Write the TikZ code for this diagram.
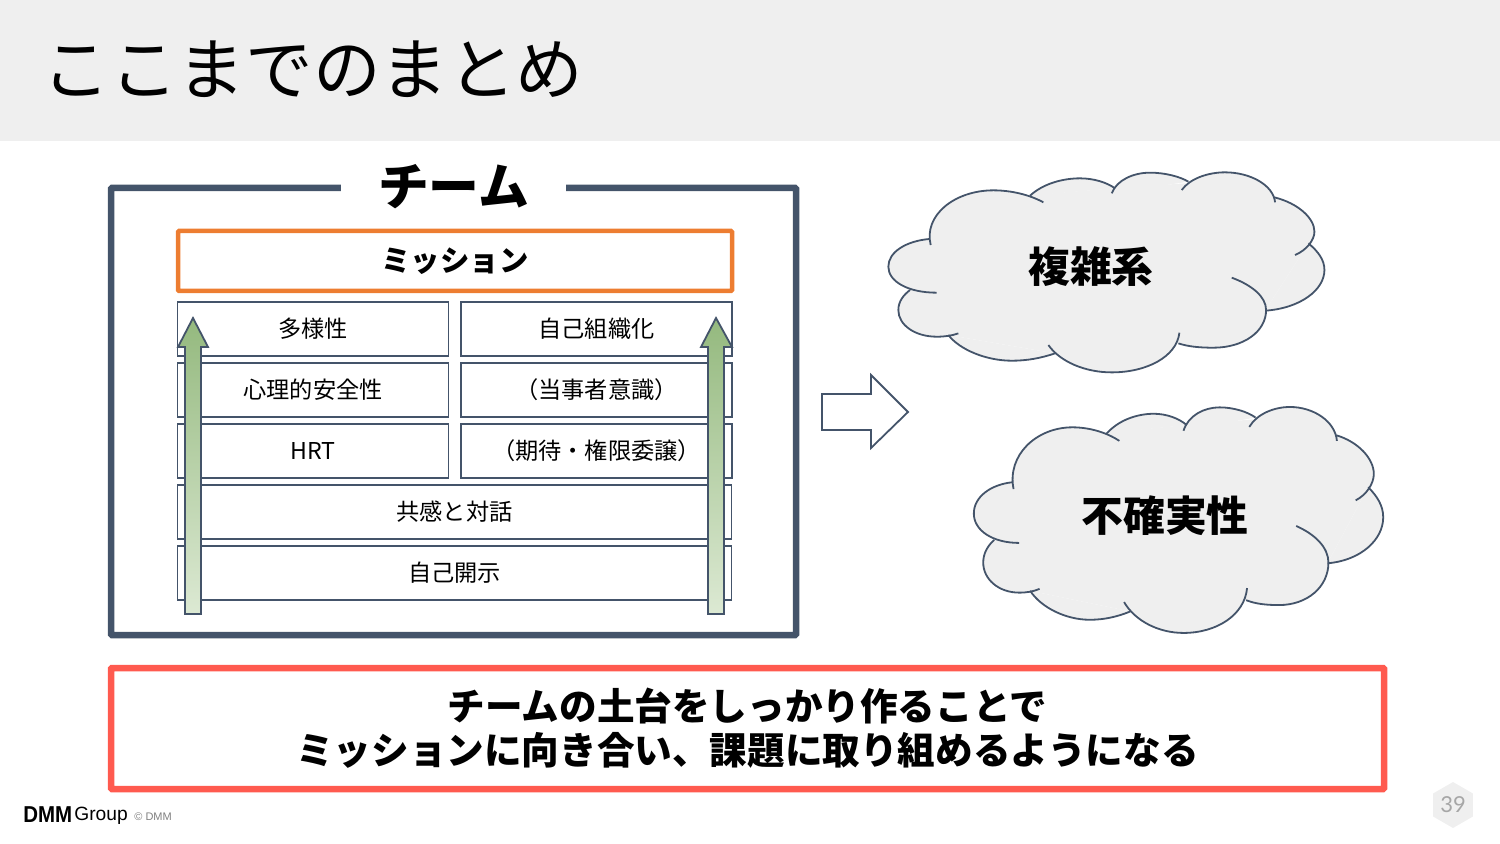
\documentclass[tikz,border=0pt]{standalone}
\usepackage{fontspec}
\setmainfont{Noto Sans CJK JP}
\newfontfamily\latinfont{Liberation Sans}
\newfontfamily\pagefont{Lato}
\usetikzlibrary{shapes.geometric}
\definecolor{slate}{HTML}{44546A}
\definecolor{band}{HTML}{EFEFEF}
\definecolor{mission}{HTML}{ED7D31}
\definecolor{alert}{HTML}{FF5A4F}
\definecolor{arrowtop}{HTML}{94B97E}
\definecolor{arrowbottom}{HTML}{DCE9D3}
\tikzset{
  layerbox/.style={draw=slate,line width=.85pt,fill=white,outer sep=0pt,inner sep=0pt,
    minimum height=27pt,font=\fontsize{11.6}{13}\selectfont},
  halfbox/.style={layerbox,minimum width=135.5pt},
  fullbox/.style={layerbox,minimum width=277pt},
  growarrow/.style={draw=slate,line width=.9pt,top color=arrowtop,bottom color=arrowbottom},
  cloudfill/.style={fill=band},
  cloudline/.style={draw=slate,line width=.9pt},
  cloudtext/.style={font=\fontsize{20.9}{24}\selectfont\bfseries,inner sep=0pt}
}
% arcs of the cloud, in its own coordinates
\newcommand{\cloudarcs}{%
\lobe{(152,240) .. controls (130,150) and (225,76) .. (340,76) .. controls (395,76) and (450,90) .. (490,112)}%
\lobe{(450,92) .. controls (490,55) and (550,40) .. (600,40) .. controls (640,40) and (680,52) .. (705,70)}%
\lobe{(695,85) .. controls (710,45) and (760,23) .. (810,23) .. controls (855,23) and (900,35) .. (925,50)}%
\lobe{(905,75) .. controls (930,40) and (985,22) .. (1035,22) .. controls (1110,22) and (1180,60) .. (1185,112)}%
\lobe{(1183,97) .. controls (1255,115) and (1303,160) .. (1303,200) .. controls (1303,225) and (1280,255) .. (1245,270)}%
\lobe{(1285,235) .. controls (1315,260) and (1333,285) .. (1333,315) .. controls (1333,375) and (1260,430) .. (1155,437)}%
\lobe{(1055,338) .. controls (1115,360) and (1158,395) .. (1158,435) .. controls (1158,500) and (1090,548) .. (1000,548) .. controls (960,548) and (925,545) .. (895,535)}%
\lobe{(898,503) .. controls (890,575) and (800,622) .. (695,622) .. controls (615,622) and (540,590) .. (505,540)}%
\lobe{(525,565) .. controls (480,580) and (440,587) .. (395,587) .. controls (320,587) and (240,555) .. (205,510)}%
\lobe{(235,505) .. controls (215,512) and (195,515) .. (170,515) .. controls (105,515) and (55,480) .. (55,435) .. controls (55,410) and (70,390) .. (90,375)}%
\lobe{(170,383) .. controls (85,383) and (25,350) .. (25,305) .. controls (25,260) and (80,228) .. (147,222)}%
}
\newcommand{\cloudshape}{%
\def\lobe##1{\fill[cloudfill] ##1 -- cycle;}%
\cloudarcs
\fill[cloudfill] (147,222)--(455,90)--(700,70)--(915,55)--(1183,97)--(1285,235)--(1155,437)--(895,535)--(525,565)--(205,510)--(90,375)--cycle;
\def\lobe##1{\draw[cloudline] ##1;}%
\cloudarcs
}
\begin{document}
\begin{tikzpicture}[x=.5pt,y=-.5pt]
\useasboundingbox (0,0) rectangle (1500,844);
\fill[band] (0,0) rectangle (1500,141);
\path
(313,69) node[inner sep=0pt,font=\fontsize{33.8}{38}\selectfont] (title) {ここまでのまとめ};
% team frame
\path
(453.5,411.5) node[draw=slate,line width=3.25pt,rounded corners=.5pt,minimum width=342.5pt,minimum height=223.5pt,outer sep=0pt] (frame) {}
(453.5,187) node[fill=white,minimum width=112.5pt,minimum height=30pt,inner sep=0pt,font=\fontsize{25.4}{29}\selectfont\bfseries] (team) {チーム}
(455,261) node[draw=mission,line width=2.25pt,rounded corners=.5pt,minimum width=277pt,minimum height=30pt,outer sep=0pt,inner sep=0pt,font=\fontsize{14.7}{17}\selectfont\bfseries] (goal) {ミッション};
\path
(313,329) node[halfbox] (diversity) {多様性}
(313,390) node[halfbox] (safety) {心理的安全性}
(313,451) node[halfbox] (hrt) {HRT}
(596.5,329) node[halfbox] (selforg) {自己組織化}
(596.5,390) node[halfbox] (party) {（当事者意識）}
(596.5,451) node[halfbox] (delegate) {（期待・権限委譲）}
(454.5,512) node[fullbox] (empathy) {共感と対話}
(454.5,573) node[fullbox] (disclose) {自己開示};
\draw[growarrow] (193,318)--(208,347)--(201,347)--(201,614)--(185,614)--(185,347)--(178,347)--cycle;
\draw[growarrow] (716,318)--(732,347)--(724,347)--(724,614)--(708,614)--(708,347)--(701,347)--cycle;
% result arrow
\draw[draw=slate,line width=.9pt,fill=white] (822,394)--(871,394)--(871,375)--(908,412)--(871,448)--(871,430)--(822,430)--cycle;
% clouds
\begin{scope}[shift={(880,165)},x=.1667pt,y=-.1667pt]
\cloudshape
\end{scope}
\begin{scope}[shift={(966,398.7)},x=.1565pt,y=-.1883pt]
\cloudshape
\end{scope}
\path
(1091,267) node[cloudtext] (complex) {複雑系}
(1165,516) node[cloudtext] (uncertain) {不確実性};
% conclusion
\path
(747.5,728.5) node[draw=alert,line width=3.25pt,rounded corners=.5pt,minimum width=636.5pt,minimum height=60.5pt,outer sep=0pt,inner sep=0pt,align=center,font=\fontsize{18.8}{22}\selectfont\bfseries] (summary) {チームの土台をしっかり作ることで\\ミッションに向き合い、課題に取り組めるようになる};
% footer
\path
(23,815) node[anchor=west,inner sep=0pt,xscale=.89,font=\latinfont\fontsize{11.5}{13}\bfseries\selectfont] (dmm) {DMM}
(74,816) node[anchor=west,inner sep=0pt,font=\latinfont\fontsize{9.6}{11}\selectfont] (group) {Group}
(134,817) node[anchor=west,inner sep=0pt,text=black!50,font=\latinfont\fontsize{5.5}{7}\selectfont] (copy) {© DMM}
(1453,805) node[regular polygon,regular polygon sides=6,shape border rotate=30,fill=band,minimum size=23pt,inner sep=0pt,text=black!35,font=\pagefont\fontsize{11}{13}\selectfont] (page) {39};
\end{tikzpicture}
\end{document}
